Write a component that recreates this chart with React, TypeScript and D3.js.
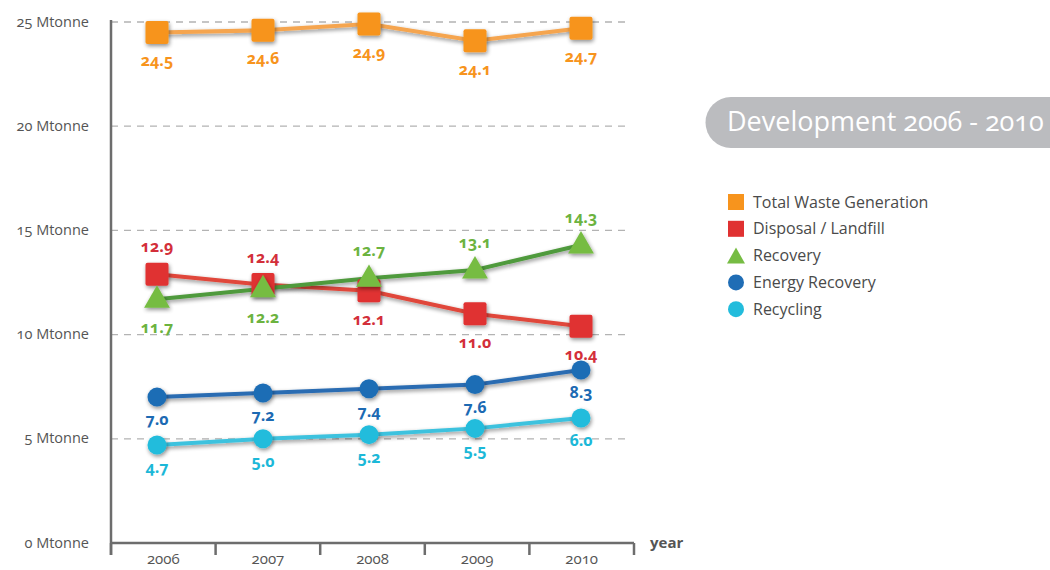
import React from "react";
import * as d3 from "d3";

const years = ["2006", "2007", "2008", "2009", "2010"];
const totalWaste = [24.5, 24.6, 24.9, 24.1, 24.7];
const disposal = [12.9, 12.4, 12.1, 11.0, 10.4];
const recovery = [11.7, 12.2, 12.7, 13.1, 14.3];
const energyRecovery = [7.0, 7.2, 7.4, 7.6, 8.3];
const recycling = [4.7, 5.0, 5.2, 5.5, 6.0];
const yTicks = [0, 5, 10, 15, 20, 25];
const legendNames = ["Total Waste Generation", "Disposal / Landfill", "Recovery", "Energy Recovery", "Recycling"];
// label placement: 1 = below, -1 = above
const totalPos = [1, 1, 1, 1, 1];
const disposalPos = [-1, -1, 1, 1, 1];
const recoveryPos = [1, 1, -1, -1, -1];
const energyPos = [1, 1, 1, 1, 1];
const recyclingPos = [1, 1, 1, 1, 1];

const FONT = "'Open Sans', 'DejaVu Sans', sans-serif";

type Series = {
  name: string;
  values: number[];
  pos: number[];
  color: string;
  line: string;
  label: string;
  shape: "square" | "triangle" | "circle";
};

const series: Series[] = [
  { name: legendNames[0], values: totalWaste, pos: totalPos, color: "#f7941d", line: "#f5a550", label: "#f7941d", shape: "square" },
  { name: legendNames[1], values: disposal, pos: disposalPos, color: "#e03131", line: "#e0473a", label: "#d32f3a", shape: "square" },
  { name: legendNames[2], values: recovery, pos: recoveryPos, color: "#76bc43", line: "#4f9a3c", label: "#6cb33f", shape: "triangle" },
  { name: legendNames[3], values: energyRecovery, pos: energyPos, color: "#1f6db5", line: "#2a6cb2", label: "#1c6ab3", shape: "circle" },
  { name: legendNames[4], values: recycling, pos: recyclingPos, color: "#22bcdc", line: "#3ec2de", label: "#1cb8d8", shape: "circle" },
];

export default function App() {
  const left = 111;
  const right = 634;
  const top = 22;
  const bottom = 543;
  const x = d3.scaleBand<string>().domain(years).range([left, right]);
  const xp = d3.scalePoint<string>().domain(years).range([157, 581]);
  const y = d3.scaleLinear().domain([0, 25]).range([bottom, top]);
  const cx = (yr: string) => (x(yr) as number) + x.bandwidth() / 2;
  const line = d3
    .line<number>()
    .x((_, i) => xp(years[i]) as number)
    .y((v) => y(v));

  const marker = (s: Series, px: number, py: number, key: string, filter?: string) => {
    if (s.shape === "square") {
      return <rect key={key} x={px - 11.5} y={py - 11.5} width={23} height={23} rx={2} fill={s.color} filter={filter} />;
    }
    if (s.shape === "triangle") {
      const sym = d3.symbol().type(d3.symbolTriangle).size(290)();
      return <path key={key} d={sym as string} transform={`translate(${px},${py + 1})`} fill={s.color} filter={filter} />;
    }
    return <circle key={key} cx={px} cy={py} r={9.5} fill={s.color} filter={filter} />;
  };

  const tickEdges = [...years.map((yr) => x(yr) as number), right];

  return (
    <svg
      width={1050}
      height={570}
      style={{ position: "absolute", left: 0, top: 0, background: "#fff" }}
      fontFamily={FONT}
    >
      <defs>
        <filter id="sh" x="-50%" y="-50%" width="200%" height="200%">
          <feGaussianBlur in="SourceAlpha" stdDeviation="2" />
          <feOffset dx="1" dy="1.5" result="b" />
          <feComponentTransfer>
            <feFuncA type="linear" slope="0.45" />
          </feComponentTransfer>
          <feMerge>
            <feMergeNode />
            <feMergeNode in="SourceGraphic" />
          </feMerge>
        </filter>
      </defs>

      {/* gridlines */}
      {yTicks.filter((t) => t > 0).map((t) => (
        <line key={t} x1={left} x2={626} y1={y(t)} y2={y(t)} stroke="#b3b3b3" strokeWidth={1.3} strokeDasharray="7,6" />
      ))}

      {/* y labels */}
      {yTicks.map((t) => (
        <text key={t} x={89} y={y(t)} dy="0.32em" textAnchor="end" fontSize={14.5} fill="#555" style={{ fontVariantNumeric: "oldstyle-nums" }}>
          {`${t} Mtonne`}
        </text>
      ))}

      {/* axes */}
      <line x1={left} x2={left} y1={top - 2} y2={bottom + 12} stroke="#6d6d6d" strokeWidth={2.5} />
      <line x1={left} x2={right} y1={bottom} y2={bottom} stroke="#6d6d6d" strokeWidth={2.5} />
      {tickEdges.map((tx, i) => (
        <line key={i} x1={tx} x2={tx} y1={bottom} y2={bottom + 12} stroke="#6d6d6d" strokeWidth={2.5} />
      ))}
      {years.map((yr) => (
        <text key={yr} x={cx(yr)} y={564} textAnchor="middle" fontSize={15} fill="#555" style={{ fontVariantNumeric: "oldstyle-nums" }}>
          {yr}
        </text>
      ))}
      <text x={650} y={548} fontSize={15} fontWeight={700} fill="#555">year</text>

      {/* lines */}
      {series.map((s) => (
        <path key={s.name} d={line(s.values) as string} fill="none" stroke={s.line} strokeWidth={4} filter="url(#sh)" />
      ))}

      {/* markers */}
      {series.map((s) => (
        <g key={s.name}>
          {s.values.map((v, i) => marker(s, xp(years[i]) as number, y(v), `${s.name}-${i}`, "url(#sh)"))}
        </g>
      ))}

      {/* value labels */}
      {series.map((s) => (
        <g key={s.name}>
          {s.values.map((v, i) => (
            <text
              key={i}
              x={xp(years[i]) as number}
              y={y(v) + (s.pos[i] > 0 ? (s.shape === "circle" ? 28 : 34) : -22)}
              textAnchor="middle"
              fontSize={16}
              fontWeight={700}
              fill={s.label}
              style={{ fontVariantNumeric: "oldstyle-nums" }}
            >
              {v.toFixed(1)}
            </text>
          ))}
        </g>
      ))}

      {/* badge */}
      <path d="M 731 97 H 1050 V 148 H 731 A 25.5 25.5 0 0 1 731 97 Z" fill="#bbbcbf" />
      <text x={727} y={131} fontSize={27} fontWeight={500} fill="#fff" style={{ fontVariantNumeric: "oldstyle-nums" }}>
        Development 2006 - 2010
      </text>

      {/* legend */}
      {series.map((s, i) => {
        const ly = 202 + i * 26.8;
        let sym: React.ReactNode;
        if (s.shape === "square") sym = <rect x={728} y={ly - 8} width={16} height={16} fill={s.color} />;
        else if (s.shape === "triangle") sym = <path d="M 736 194 L 745 210 L 727 210 Z" transform={`translate(0, ${ly - 202})`} fill={s.color} />;
        else sym = <circle cx={736} cy={ly} r={8} fill={s.color} />;
        return (
          <g key={s.name}>
            {sym}
            <text x={753} y={ly} dy="0.35em" fontSize={16} fill="#4a4a4a">{s.name}</text>
          </g>
        );
      })}
    </svg>
  );
}
